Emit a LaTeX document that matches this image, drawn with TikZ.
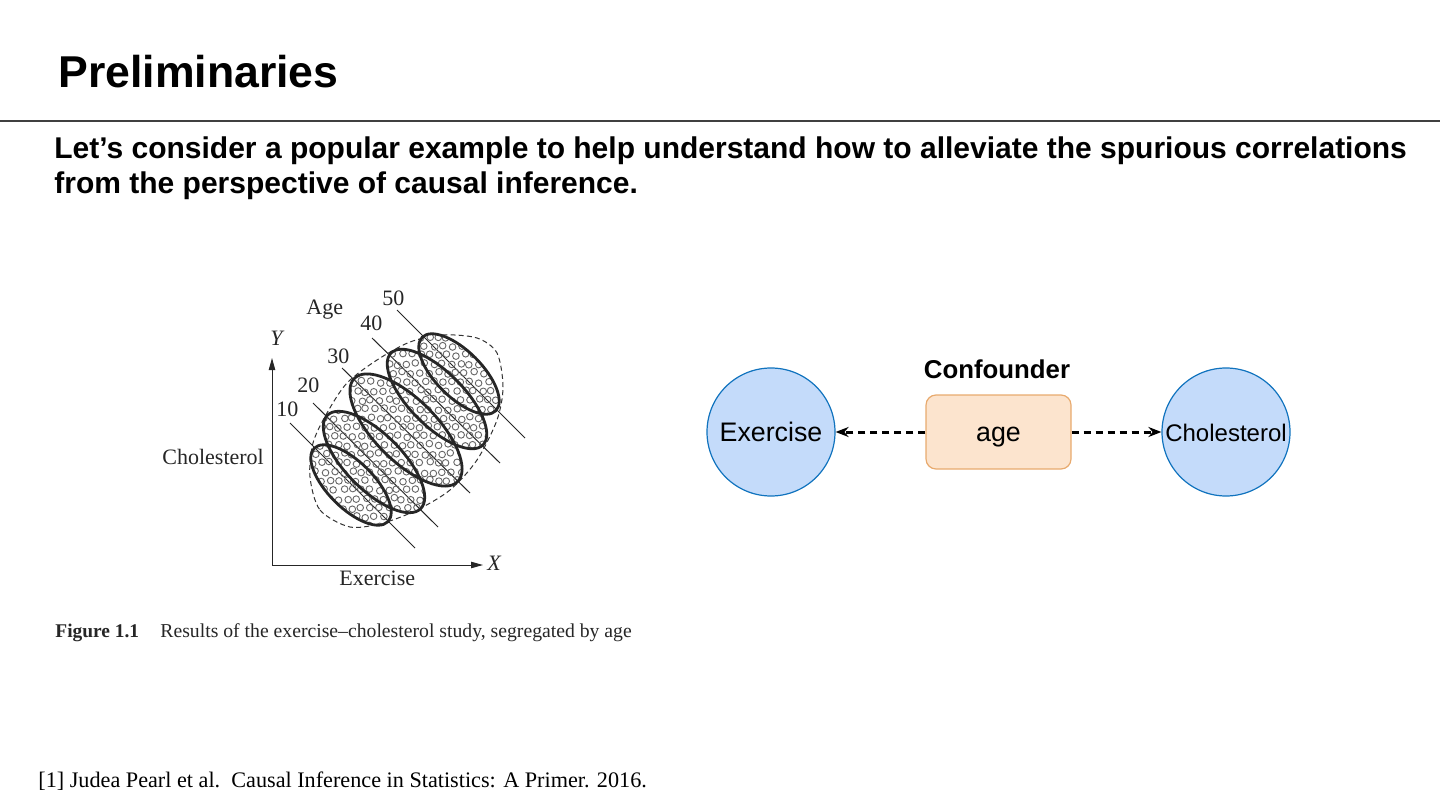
\documentclass[tikz,border=0pt]{standalone}
\usepackage{fontspec}
\setmainfont{Liberation Serif}
\setsansfont{Liberation Sans}
\usepackage{xcolor}
\usetikzlibrary{arrows.meta}
\definecolor{varfill}{HTML}{C4DBFA}
\definecolor{vardraw}{HTML}{1073BE}
\definecolor{boxfill}{HTML}{FCE4CE}
\definecolor{boxdraw}{HTML}{E8AA6E}
\newcommand\agerings{(351,325) circle[x radius=52,y radius=23,rotate=-45]
  (374,348) circle[x radius=66,y radius=28,rotate=-45]
  (406,380) circle[x radius=73,y radius=31,rotate=-45]
  (437,411) circle[x radius=65,y radius=27,rotate=-45]
  (459,436) circle[x radius=52,y radius=23,rotate=-45]}

\begin{document}
\begin{tikzpicture}[x=0.5pt,y=0.5pt,>=Stealth,
  figtext/.style={font=\fontsize{11}{13}\selectfont,text=black!85,inner sep=0pt,anchor=base west},
  var/.style={circle,minimum size=64pt,inner sep=0pt,fill=varfill,draw=vardraw,line width=0.6pt,text height=9.4pt,text depth=0pt,font=\sffamily\fontsize{13.4}{15}\selectfont},
  confbox/.style={rectangle,rounded corners=5pt,minimum width=72.5pt,minimum height=37pt,fill=boxfill,draw=boxdraw,line width=0.6pt,text height=9.4pt,text depth=0pt,font=\sffamily\fontsize{13.4}{15}\selectfont},
  flow/.style={->,>={Stealth[length=6.5pt,width=5pt]},line width=1.5pt,dash pattern=on 3.5pt off 2.5pt}]
\useasboundingbox (0,0) rectangle (1440,810);
\node[anchor=base west,inner sep=0pt,font=\sffamily\bfseries\fontsize{22.3}{26}\selectfont] (title) at (58,722) {Preliminaries};
\draw[black!75,line width=0.6pt] (0,689) -- (1440,689);
\node[anchor=base west,inner sep=0pt,font=\sffamily\bfseries\fontsize{15}{18}\selectfont] (intro) at (54,651.5) {Let's consider a popular example to help understand how to alleviate the spurious correlations};
\node[anchor=base west,inner sep=0pt,font=\sffamily\bfseries\fontsize{15}{18}\selectfont] (introb) at (54,616) {from the perspective of causal inference.};
\draw[black!80,line width=0.5pt,dash pattern=on 2.5pt off 1.6pt] plot[smooth cycle] coordinates {(310,333) (320,300) (350,283) (383,287) (417,300) (450,320) (477,350) (497,390) (503,423) (497,457) (477,472) (443,475) (410,468) (377,450) (347,427) (327,397) (313,367)};
\fill[white] \agerings;
\foreach \x/\y/\u/\v in {290/387/415/262,313/407/438/283,342/442/470/317,372/472/500/347,397/500/525/372}
  \draw[black!85,line width=0.5pt] (\x,\y) -- (\u,\v);
\begin{scope}
\clip \agerings;
\pgfmathsetseed{11}
\foreach \gx in {294,303,...,522}
  \foreach \gy [count=\row] in {266,275,...,494}
    \draw[black!60,line width=0.45pt] ({\gx+mod(\row,2)*4.5+1.5*rand},{\gy+1.5*rand}) circle[radius=3.3];
\end{scope}
\draw[black!85,line width=1.4pt] \agerings;
\coordinate (origin) at (272,245);
\coordinate (ytop) at (272,452);
\coordinate (xend) at (483,245);
\draw[-{Triangle[length=6pt,width=3.2pt]},black!85,line width=0.5pt] (origin) -- (ytop);
\draw[-{Triangle[length=6pt,width=3.2pt]},black!85,line width=0.5pt] (origin) -- (xend);
\node[figtext,font=\itshape\fontsize{11}{13}\selectfont] (ylab) at (270,465) {Y};
\node[figtext,font=\itshape\fontsize{11}{13}\selectfont] (xlab) at (487,240) {X};
\node[figtext] (ylabel) at (162,346) {Cholesterol};
\node[figtext] (xlabel) at (339,225) {Exercise};
\node[figtext] (agelabel) at (306,495) {Age};
\foreach \a/\x/\y in {10/276/394,20/297/418,30/327/447,40/360/480,50/382/504}
  \node[figtext] (age\a) at (\x,\y) {\a};
\node[anchor=base west,inner sep=0pt,text=black!85,font=\bfseries\fontsize{9.7}{12}\selectfont] (fignum) at (55,173) {Figure 1.1};
\node[anchor=base west,inner sep=0pt,text=black!85,font=\fontsize{9.85}{12}\selectfont] (caption) at (160,173) {Results of the exercise--cholesterol study, segregated by age};
\node[var] (exercise) at (771,378) {Exercise};
\node[var,font=\sffamily\fontsize{12}{14}\selectfont] (cholesterol) at (1226,378) {Cholesterol};
\node[confbox] (age) at (998.5,378) {age};
\node[anchor=base,inner sep=0pt,font=\sffamily\bfseries\fontsize{12.9}{15}\selectfont] (confounder) at (997,432) {Confounder};
\draw[flow] (age) -- (exercise);
\draw[flow] (age) -- (cholesterol);
\node[anchor=base west,inner sep=0pt,font=\fontsize{11.1}{13}\selectfont] (ref) at (38,23) {[1] Judea Pearl et al.\ \ Causal Inference in Statistics: A Primer. 2016.};
\end{tikzpicture}
\end{document}
